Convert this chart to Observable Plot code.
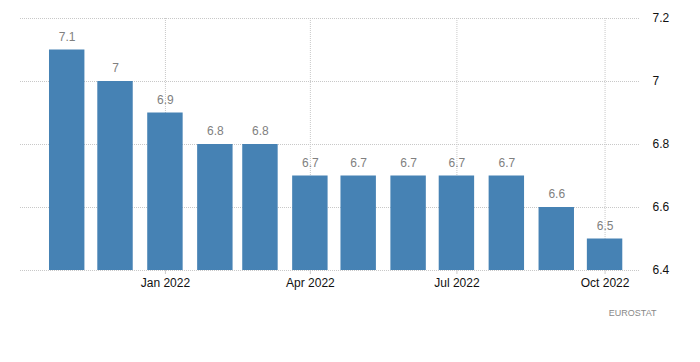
<!DOCTYPE html>
<html>
<head>
<meta charset="utf-8">
<script src="https://cdn.jsdelivr.net/npm/d3@7"></script>
<script src="https://cdn.jsdelivr.net/npm/@observablehq/plot@0.6"></script>
<style>
  html, body { margin: 0; padding: 0; background: #fff; }
  #chart { width: 700px; height: 362px; }
</style>
</head>
<body>
<div id="chart"></div>
<script>
const months = ["2021-11-01","2021-12-01","2022-01-01","2022-02-01","2022-03-01","2022-04-01","2022-05-01","2022-06-01","2022-07-01","2022-08-01","2022-09-01","2022-10-01"];
const values = [7.1, 7, 6.9, 6.8, 6.8, 6.7, 6.7, 6.7, 6.7, 6.7, 6.6, 6.5];
const xTickDates = ["2022-01-01","2022-04-01","2022-07-01","2022-10-01"];
const yTicks = [6.4, 6.6, 6.8, 7, 7.2];
const source = "EUROSTAT";

const data = months.map((m, i) => ({date: new Date(m + "T00:00:00Z"), value: values[i]}));
const xTicks = xTickDates.map(d => new Date(d + "T00:00:00Z"));
const yBase = yTicks[0];

const chart = Plot.plot({
  width: 700,
  height: 362,
  marginTop: 18,
  marginBottom: 92,
  marginLeft: 20,
  marginRight: 60,
  style: {fontFamily: "Liberation Sans, Arial, sans-serif", background: "#fff"},
  x: {type: "utc", label: null, domain: [new Date("2021-10-03T00:00:00Z"), new Date("2022-10-23T00:00:00Z")]},
  y: {label: null, domain: [yTicks[0], yTicks[yTicks.length - 1]]},
  marks: [
    Plot.gridY(yTicks, {stroke: "#c8c8c8", strokeOpacity: 1, strokeDasharray: "1,1"}),
    Plot.gridX(xTicks, {stroke: "#c8c8c8", strokeOpacity: 1, strokeDasharray: "1,1"}),
    Plot.rectY(data, {
      x1: d => d3.utcDay.offset(d.date, -11),
      x2: d => d3.utcDay.offset(d.date, 11),
      y1: yBase,
      y2: "value",
      fill: "#4682b4"
    }),
    Plot.text(data, {x: "date", y: "value", text: d => String(d.value), dy: -13, fill: "#808080", fontSize: 12}),
    Plot.axisY(yTicks, {anchor: "right", label: null, tickSize: 0, tickPadding: 12, textAnchor: "start", tickFormat: d => String(d), fill: "#111", fontSize: 12}),
    Plot.axisX(xTicks, {anchor: "bottom", label: null, tickSize: 4, stroke: "#ccc", tickPadding: 4, tickFormat: d3.utcFormat("%b %Y"), fill: "#111", fontSize: 12}),
    Plot.text([source], {frameAnchor: "bottom-right", dx: 16, dy: 45, fontSize: 9, fill: "#888"})
  ]
});
document.getElementById("chart").appendChild(chart);
</script>
</body>
</html>
